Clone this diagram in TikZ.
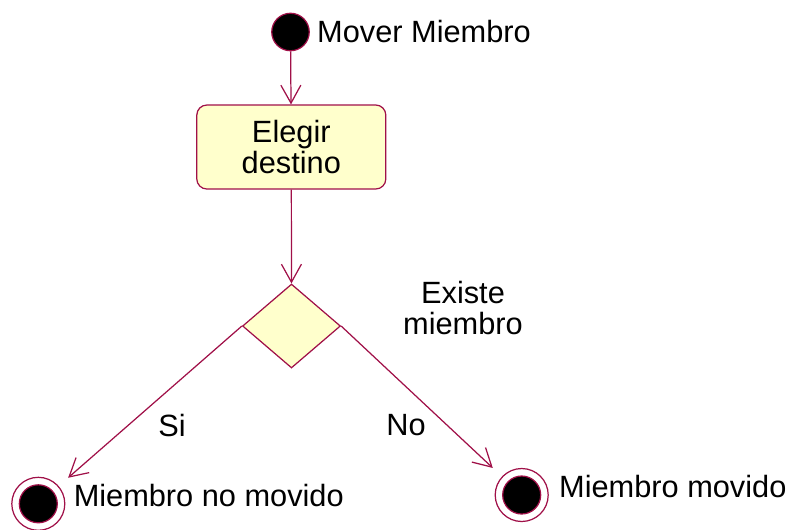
\documentclass[tikz,border=0pt]{standalone}
\usepackage{fontspec}
\setmainfont{Liberation Sans}
\usepackage{xcolor}
\usepackage{tikz}
\usetikzlibrary{shapes.geometric, arrows.meta, positioning}
\definecolor{umlrojo}{RGB}{160,16,72}
\definecolor{umlcrema}{RGB}{255,255,204}
\tikzstyle{flecha} = [draw=umlrojo, line width=0.7pt, -{Straight Barb[length=0.36cm,width=0.4cm]}]
\tikzstyle{inicio} = [circle, draw=umlrojo, fill=black, line width=0.7pt, minimum size=0.75cm, inner sep=0pt]
\tikzstyle{final} = [circle, draw=umlrojo, line width=0.7pt, minimum size=1.06cm, inner sep=0pt,
  path picture={\filldraw[draw=umlrojo, fill=black] (path picture bounding box.center) circle (0.38cm);}]
\tikzstyle{actividad} = [rectangle, rounded corners=0.2cm, draw=umlrojo, fill=umlcrema, line width=0.7pt,
  minimum width=3.78cm, minimum height=1.68cm, text centered, align=center]
\tikzstyle{decision} = [diamond, draw=umlrojo, fill=umlcrema, line width=0.7pt,
  minimum width=1.96cm, minimum height=1.68cm, inner sep=0pt]
\tikzstyle{etiqueta} = [inner sep=0pt, align=center]

\begin{document}
\begin{tikzpicture}[x=0.02cm, y=-0.02cm, font=\fontsize{17.5}{18.2}\selectfont]
    \useasboundingbox (0,0) rectangle (795,529);

    % Estados
    \node (ini) [inicio] at (290.5,32) {};
    \node (elegir) [actividad] at (291.3,147) {Elegir\\destino};
    \node (existe) [decision] at (291.5,326) {};
    \node (nomovido) [final] at (38.3,503.8) {};
    \node (movido) [final] at (521.7,495) {};

    % Textos
    \node (lblini) [etiqueta, right=0.14cm of ini] {Mover Miembro};
    \node (lblexiste) [etiqueta] at (463,308) {Existe\\miembro};
    \node (lblsi) [etiqueta] at (172,425) {Si};
    \node (lblno) [etiqueta] at (406,425) {No};
    \node (lblnomovido) [etiqueta, right=0.16cm of nomovido, yshift=0.16cm] {Miembro no movido};
    \node (lblmovido) [etiqueta, right=0.2cm of movido, yshift=0.18cm] {Miembro movido};

    % Transiciones
    \draw [flecha] (ini) -- (elegir);
    \draw [flecha] (elegir) -- (existe);
    \draw [flecha, shorten >=0.25cm] (existe.west) -- (nomovido);
    \draw [flecha, shorten >=0.25cm] (existe.east) -- (movido);
\end{tikzpicture}
\end{document}
